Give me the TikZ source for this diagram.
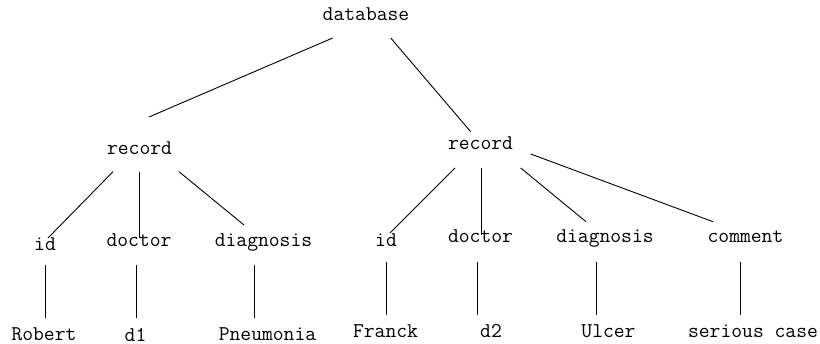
\documentclass[tikz,border=0pt]{standalone}
\usepackage{fontspec}
\begin{document}
\begin{tikzpicture}[x=1pt,y=-1pt,
  lbl/.style={font=\ttfamily\fontsize{21}{24}\selectfont, inner sep=0pt, anchor=base},
  edge/.style={line width=0.9pt, black}]
\useasboundingbox (0,0) rectangle (820,344);
% nodes
\node[lbl] (db)   at (366,21)   {database};
\node[lbl] (r1)   at (139.5,155) {record};
\node[lbl] (r2)   at (480.5,150) {record};
\node[lbl] (i1)   at (45,251)   {id};
\node[lbl] (doc1) at (139,247)  {doctor};
\node[lbl] (dg1)  at (263.5,247) {diagnosis};
\node[lbl] (rob)  at (44,341)   {Robert};
\node[lbl] (d1)   at (135.5,342) {d1};
\node[lbl] (pn)   at (267.5,341) {Pneumonia};
\node[lbl] (i2)   at (386,247)  {id};
\node[lbl] (doc2) at (480.5,243) {doctor};
\node[lbl] (dg2)  at (605,243)  {diagnosis};
\node[lbl] (com)  at (745.5,243) {comment};
\node[lbl] (fr)   at (385.5,338) {Franck};
\node[lbl] (d2)   at (491,338)  {d2};
\node[lbl] (ul)   at (608.5,338) {Ulcer};
\node[lbl] (sc)   at (753,338)  {serious case};
% connectors
\draw[edge] ([shift={(-33.3,17)}]db.base) -- ([shift={(9.5,-38)}]r1.base);
\draw[edge] ([shift={(24.7,17)}]db.base) -- ([shift={(-9.8,-18.3)}]r2.base);
\draw[edge] ([shift={(-26.5,16.7)}]r1.base) -- ([shift={(3,-13)}]i1.base);
\draw[edge] ([shift={(-0.5,16.7)}]r1.base) -- ([shift={(0,-9)}]doc1.base);
\draw[edge] ([shift={(39.5,16.7)}]r1.base) -- ([shift={(-19.5,-22)}]dg1.base);
\draw[edge] ([shift={(0,14)}]i1.base) -- ([shift={(1,-23)}]rob.base);
\draw[edge] ([shift={(-3,18)}]doc1.base) -- ([shift={(0.5,-24)}]d1.base);
\draw[edge] ([shift={(-9.5,18)}]dg1.base) -- ([shift={(-13.5,-23)}]pn.base);
\draw[edge] ([shift={(-25.5,18)}]r2.base) -- ([shift={(4,-14)}]i2.base);
\draw[edge] ([shift={(0.5,18)}]r2.base) -- ([shift={(0.5,-8)}]doc2.base);
\draw[edge] ([shift={(40.2,18)}]r2.base) -- ([shift={(-19,-21.3)}]dg2.base);
\draw[edge] ([shift={(50.2,4)}]r2.base) -- ([shift={(-32.5,-21.3)}]com.base);
\draw[edge] ([shift={(0,14.7)}]i2.base) -- ([shift={(0.5,-23)}]fr.base);
\draw[edge] ([shift={(-2.8,19)}]doc2.base) -- ([shift={(-13.3,-23)}]d2.base);
\draw[edge] ([shift={(-9,19)}]dg2.base) -- ([shift={(-12.5,-23)}]ul.base);
\draw[edge] ([shift={(-5.5,19)}]com.base) -- ([shift={(-13,-23)}]sc.base);
\end{tikzpicture}
\end{document}
